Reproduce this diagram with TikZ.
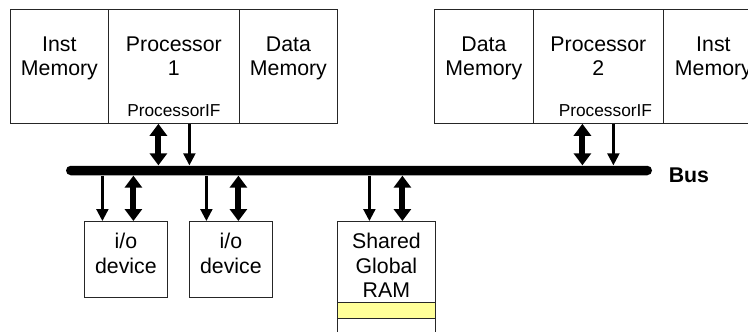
\documentclass[tikz,border=0pt]{standalone}
\usepackage{fontspec}
\setmainfont{Liberation Sans}
\usetikzlibrary{positioning,arrows.meta}
\definecolor{ramyellow}{RGB}{255,255,153}

\begin{document}
\begin{tikzpicture}[x=1pt, y=-1pt, line width=0.8pt,
  box/.style = {draw=black!85, rectangle, inner sep=0pt, anchor=north west, minimum height=114pt},
  txt/.style = {align=center, inner sep=0pt, font=\fontsize{21.3}{24.5}\selectfont},
  small/.style = {inner sep=0pt, anchor=base, font=\fontsize{17.3}{20}\selectfont},
  bus/.style = {fill=black, rectangle, rounded corners=4.75pt, inner sep=0pt, minimum width=586pt, minimum height=9.5pt},
  one/.style = {line width=2.2pt, -{Triangle[width=12pt,length=12pt]}},
  two/.style = {line width=6pt, {Triangle[width=17pt,length=12pt]}-{Triangle[width=17pt,length=12pt]}}]
\useasboundingbox (0,0) rectangle (748,332);
\clip (0,0) rectangle (748,332);
% processor 1
\node[box, minimum width=98pt] (inst1) at (10,9) {};
\node[box, minimum width=131pt] (proc1) at (108,9) {};
\node[box, minimum width=98pt] (data1) at (239,9) {};
\node[txt, below=27pt of inst1.north] {Inst\\Memory};
\node[txt, below=27pt of proc1.north] {Processor\\1};
\node[txt, below=27pt of data1.north] {Data\\Memory};
\node[small] (if1) at ([yshift=7pt]proc1.south) {ProcessorIF};
% processor 2
\node[box, minimum width=99pt] (data2) at (434,9) {};
\node[box, minimum width=130pt] (proc2) at (533,9) {};
\node[box, minimum width=100pt] (inst2) at (663,9) {};
\node[txt, below=27pt of data2.north] {Data\\Memory};
\node[txt, below=27pt of proc2.north] {Processor\\2};
\node[txt, below=27pt of inst2.north] {Inst\\Memory};
\node[small] (if2) at ([xshift=7pt, yshift=7pt]proc2.south) {ProcessorIF};
% bus
\node[bus] (bus) at (359,170.5) {};
\node[txt, anchor=west, font=\fontsize{21.3}{24.5}\selectfont\bfseries] (buslabel) at ([xshift=16pt, yshift=-4.5pt]bus.east) {Bus};
% devices
\node[box, minimum width=83pt, minimum height=76pt] (io1) at (84,221) {};
\node[box, minimum width=83pt, minimum height=76pt] (io2) at (189,221) {};
\node[box, minimum width=98pt, minimum height=130pt] (ram) at (337,221) {};
\node[box, fill=ramyellow, minimum width=98pt, minimum height=16pt] (slot) at (337,302) {};
\node[txt, below=12pt of io1.north] {i/o\\device};
\node[txt, below=12pt of io2.north] {i/o\\device};
\node[txt, below=12pt of ram.north] {Shared\\Global\\RAM};
% connections
\draw[two] ([xshift=-15.5pt]proc1.south) -- ([xshift=-15.5pt]proc1.south |- bus.north);
\draw[one] ([xshift=15.5pt]proc1.south) -- ([xshift=15.5pt]proc1.south |- bus.north);
\draw[two] ([xshift=-16pt]proc2.south) -- ([xshift=-16pt]proc2.south |- bus.north);
\draw[one] ([xshift=15pt]proc2.south) -- ([xshift=15pt]proc2.south |- bus.north);
\draw[one] ([xshift=-23.5pt]io1.north |- bus.south) -- ([xshift=-23.5pt]io1.north);
\draw[two] ([xshift=7.5pt]io1.north |- bus.south) -- ([xshift=7.5pt]io1.north);
\draw[one] ([xshift=-24.5pt]io2.north |- bus.south) -- ([xshift=-24.5pt]io2.north);
\draw[two] ([xshift=7.5pt]io2.north |- bus.south) -- ([xshift=7.5pt]io2.north);
\draw[one] ([xshift=-17pt]ram.north |- bus.south) -- ([xshift=-17pt]ram.north);
\draw[two] ([xshift=16pt]ram.north |- bus.south) -- ([xshift=16pt]ram.north);
\end{tikzpicture}
\end{document}
